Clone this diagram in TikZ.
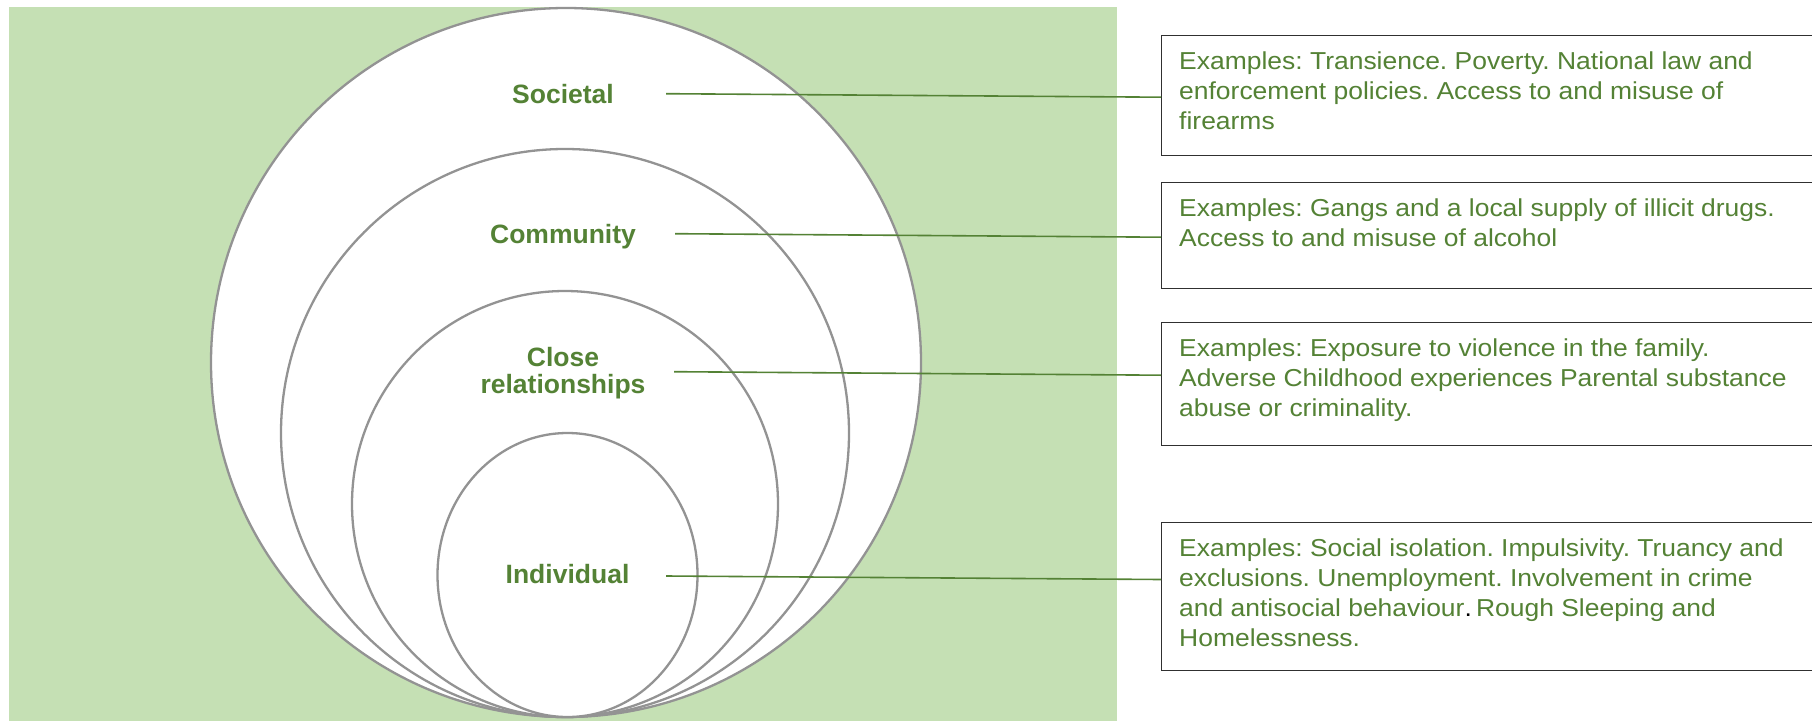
\documentclass[tikz,border=0pt]{standalone}
\usepackage{fontspec}
\setmainfont{Liberation Sans}
\newfontfamily\boxfont{Liberation Sans}[FakeStretch=1.08]
\usepackage{xcolor}
\usetikzlibrary{positioning}
\definecolor{bggreen}{HTML}{C5E0B4}
\definecolor{txtgreen}{HTML}{548235}
\definecolor{ringgray}{HTML}{939393}
\definecolor{boxgray}{HTML}{303030}
\frenchspacing
\tikzset{
  ring/.style={draw=ringgray, line width=2.3pt, fill=white},
  lvl/.style={font=\bfseries\fontsize{26.5}{27}\selectfont, text=txtgreen, inner sep=0pt, align=center},
  exbox/.style={draw=boxgray, line width=1.3pt, fill=white, anchor=north west, minimum width=660pt, inner sep=0pt},
  extext/.style={font=\boxfont\fontsize{24.5}{30}\selectfont, text=txtgreen, inner sep=0pt, align=left, anchor=north west},
  link/.style={draw=txtgreen, line width=1.6pt}
}
\begin{document}
\begin{tikzpicture}[x=1pt,y=-1pt]
\useasboundingbox (0,0) rectangle (1812,720);
\fill[bggreen] (9,7) rectangle (1117,721);
% nested levels, all touching at the bottom
\draw[ring] (566,362.5) ellipse (355 and 354.5);
\draw[ring] (565,433) ellipse (284 and 284);
\draw[ring] (565,504) ellipse (213 and 213);
\draw[ring] (567.5,575) ellipse (130 and 142);
\node[lvl, anchor=base] (soc) at (563,103.3) {Societal};
\node[lvl, anchor=base] (com) at (563,243.3) {Community};
\node[lvl] (rel) at (563,373) {Close\\relationships};
\node[lvl, anchor=base] (ind) at (567.5,583.3) {Individual};
% example boxes
\node[exbox, minimum height=120pt] (b1) at (1161,35) {};
\node[exbox, minimum height=106.5pt] (b2) at (1161,181.5) {};
\node[exbox, minimum height=123pt] (b3) at (1161,322) {};
\node[exbox, minimum height=148pt] (b4) at (1161,522) {};
\node[extext, below right=17pt and 18pt of b1.north west] (t1) {Examples: Transience. Poverty. National law and\\enforcement policies. Access to and misuse of\\firearms};
\node[extext, below right=17pt and 18pt of b2.north west] (t2) {Examples: Gangs and a local supply of illicit drugs.\\Access to and misuse of alcohol};
\node[extext, below right=17pt and 18pt of b3.north west] (t3) {Examples: Exposure to violence in the family.\\Adverse Childhood experiences Parental substance\\abuse or criminality.};
\node[extext, below right=17pt and 18pt of b4.north west] (t4) {Examples: Social isolation. Impulsivity. Truancy and\\exclusions. Unemployment. Involvement in crime\\and antisocial behaviour{\color{black}.}\,Rough Sleeping and\\Homelessness.};
% connectors
\coordinate (s1) at (666,93.7);
\coordinate (s2) at (675,233.7);
\coordinate (s3) at (674,371.7);
\coordinate (s4) at (666,576);
\path (s1 -| b1.west) ++(0,3.5) coordinate (e1);
\path (s2 -| b2.west) ++(0,3.5) coordinate (e2);
\path (s3 -| b3.west) ++(0,3.5) coordinate (e3);
\path (s4 -| b4.west) ++(0,3.5) coordinate (e4);
\draw[link] (s1) -- (e1);
\draw[link] (s2) -- (e2);
\draw[link] (s3) -- (e3);
\draw[link] (s4) -- (e4);
\end{tikzpicture}
\end{document}
